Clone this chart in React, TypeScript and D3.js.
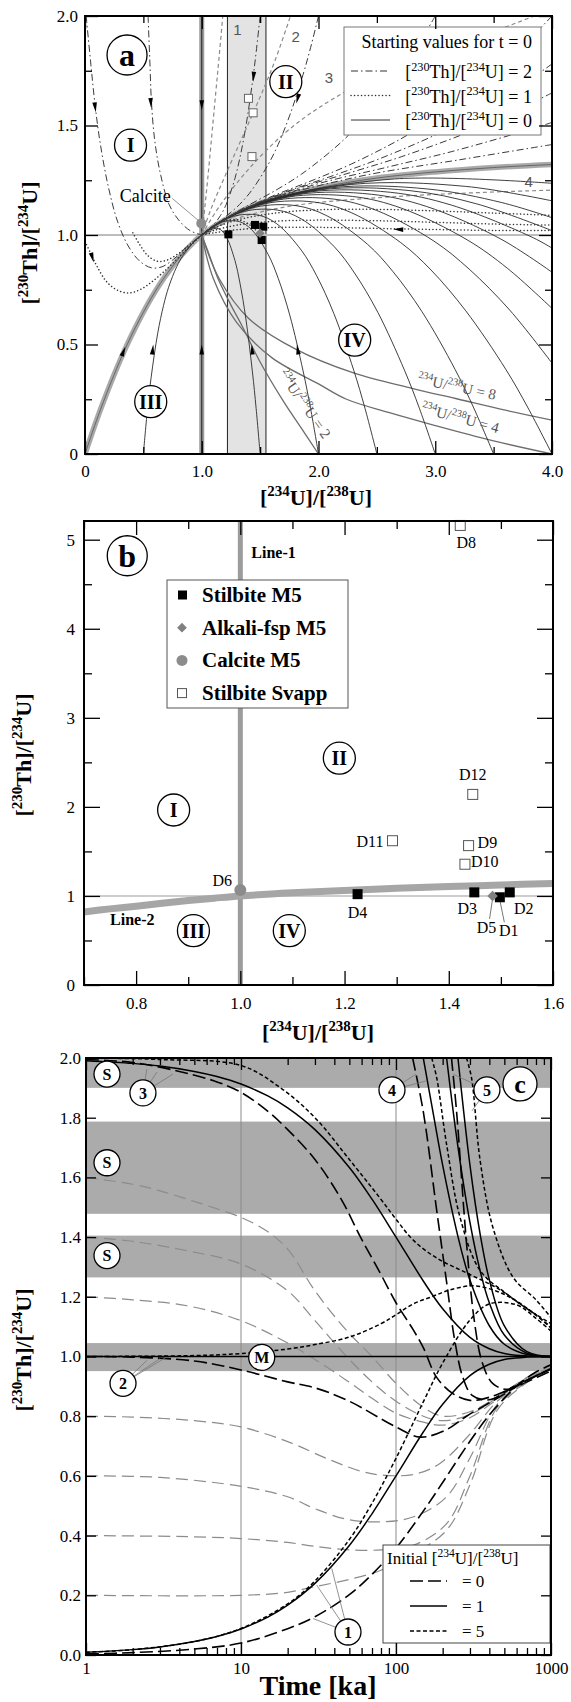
import React, { useEffect, useRef } from 'react';
import * as d3 from 'd3';

type P = [number, number];
const FONT = "'Liberation Serif', 'Times New Roman', serif";

// ---------------- panel a : [234U]/[238U] vs [230Th]/[234U] ----------------
const aBand: P = [1.22, 1.55];

const aThick: P[] = [[0, 0], [0.068, 0.107], [0.132, 0.202], [0.246, 0.358], [0.346, 0.482], [0.432, 0.578], [0.572, 0.716], [0.677, 0.804], [0.817, 0.902], [0.941, 0.972], [1, 1], [1.25, 1.085], [1.5, 1.145], [2, 1.215], [2.5, 1.26], [3, 1.288], [3.5, 1.308], [4, 1.322]];

// starting [230Th]/[234U] = 0 (solid)
const aSolid05: P[] = [[0.5, 0], [0.534, 0.198], [0.566, 0.348], [0.623, 0.552], [0.673, 0.679], [0.716, 0.761], [0.786, 0.856], [0.839, 0.906], [0.908, 0.954], [0.97, 0.987], [1, 1]];
const aSolid15: P[] = [[1.5, 0], [1.466, 0.207], [1.434, 0.375], [1.377, 0.621], [1.327, 0.781], [1.284, 0.884], [1.214, 0.988], [1.162, 1.024], [1.092, 1.031], [1.03, 1.013], [1, 1]];
const aSolid20: P[] = [[2, 0], [1.932, 0.208], [1.868, 0.379], [1.754, 0.634], [1.655, 0.802], [1.568, 0.912], [1.428, 1.024], [1.323, 1.061], [1.184, 1.061], [1.059, 1.025], [1, 1]];
const aSolid25: P[] = [[2.5, 0], [2.398, 0.209], [2.302, 0.382], [2.131, 0.642], [1.982, 0.816], [1.852, 0.931], [1.643, 1.051], [1.484, 1.091], [1.275, 1.086], [1.089, 1.036], [1, 1]];
const aSolid30: P[] = [[3, 0], [2.864, 0.209], [2.736, 0.383], [2.508, 0.647], [2.309, 0.826], [2.136, 0.946], [1.857, 1.072], [1.646, 1.114], [1.367, 1.108], [1.118, 1.047], [1, 1]];
const aSolid35: P[] = [[3.5, 0], [3.33, 0.21], [3.171, 0.385], [2.885, 0.651], [2.636, 0.834], [2.421, 0.957], [2.071, 1.088], [1.807, 1.134], [1.459, 1.127], [1.148, 1.057], [1, 1]];
const aSolid40: P[] = [[4, 0], [3.795, 0.21], [3.605, 0.386], [3.261, 0.654], [2.964, 0.84], [2.705, 0.965], [2.285, 1.101], [1.969, 1.15], [1.551, 1.144], [1.178, 1.067], [1, 1]];
const aSolid45: P[] = [[4, 0.415], [3.638, 0.657], [3.291, 0.844], [2.989, 0.972], [2.499, 1.112], [2.13, 1.164], [1.642, 1.159], [1.207, 1.076], [1, 1]];
const aSolid50: P[] = [[4, 0.665], [3.618, 0.848], [3.273, 0.978], [2.713, 1.122], [2.292, 1.176], [1.734, 1.173], [1.237, 1.085], [1, 1]];
const aSolid55: P[] = [[4, 0.83], [3.557, 0.983], [2.927, 1.13], [2.453, 1.186], [1.826, 1.185], [1.266, 1.093], [1, 1]];
const aSolid60: P[] = [[4, 0.94], [3.841, 0.987], [3.142, 1.136], [2.615, 1.195], [1.918, 1.196], [1.296, 1.101], [1, 1]];
const aSolid65: P[] = [[4, 1.02], [3.356, 1.142], [2.776, 1.203], [2.009, 1.206], [1.326, 1.109], [1, 1]];
const aSolid70: P[] = [[4, 1.079], [3.57, 1.148], [2.937, 1.21], [2.101, 1.215], [1.355, 1.116], [1, 1]];
const aSolid80: P[] = [[4, 1.156], [3.26, 1.222], [2.285, 1.231], [1.414, 1.13], [1, 1]];
const aSolid100: P[] = [[4, 1.236], [2.652, 1.256], [1.533, 1.154], [1.13, 1.051], [1, 1]];

// starting [230Th]/[234U] = 1 (dotted)
const aDot1: P[] = [[0, 0.97], [0.05, 0.915], [0.1, 0.86], [0.18, 0.79], [0.27, 0.75], [0.37, 0.735], [0.47, 0.75], [0.57, 0.785], [0.67, 0.83], [0.77, 0.88], [0.88, 0.94], [1, 1]];
const aDot2: P[] = [[0.41, 1.01], [0.47, 0.955], [0.54, 0.905], [0.62, 0.88], [0.7, 0.885], [0.8, 0.915], [0.9, 0.957], [1, 1]];
const aDot3: P[] = [[4, 1.02], [3.5, 1.021], [3, 1.025], [2.5, 1.03], [2, 1.035], [1.6, 1.034], [1.3, 1.024], [1.1, 1.01], [1, 1]];
const aDot4: P[] = [[4, 1.045], [3.5, 1.05], [3, 1.058], [2.5, 1.065], [2, 1.068], [1.6, 1.062], [1.3, 1.045], [1.1, 1.02], [1, 1]];
const aDot5: P[] = [[4, 1.09], [3.5, 1.1], [3, 1.11], [2.5, 1.117], [2, 1.115], [1.6, 1.098], [1.3, 1.068], [1.1, 1.03], [1, 1]];
const aDot6: P[] = [[1.5, 1.0], [1.434, 1.037], [1.377, 1.057], [1.327, 1.067], [1.284, 1.071], [1.214, 1.067], [1.162, 1.057], [1.092, 1.037], [1, 1]];

// starting [230Th]/[234U] = 2 (dash-dot)
const aDashDotI1: P[] = [[0.01, 2.0], [0.05, 1.78], [0.085, 1.6], [0.13, 1.42], [0.2, 1.22], [0.28, 1.06], [0.37, 0.95], [0.47, 0.88], [0.57, 0.85], [0.66, 0.855], [0.76, 0.89], [0.88, 0.95], [1, 1]];
const aDashDotI2: P[] = [[0.54, 2.0], [0.555, 1.8], [0.57, 1.6], [0.6, 1.42], [0.65, 1.27], [0.72, 1.14], [0.8, 1.07], [0.9, 1.02], [1, 1]];
const aDashDot15: P[] = [[1.5, 2], [1.466, 1.835], [1.434, 1.698], [1.377, 1.493], [1.327, 1.353], [1.284, 1.258], [1.214, 1.146], [1.162, 1.09], [1.092, 1.042], [1, 1]];
const aDashDot20: P[] = [[2, 2], [1.932, 1.855], [1.868, 1.733], [1.754, 1.547], [1.655, 1.414], [1.568, 1.321], [1.428, 1.204], [1.323, 1.139], [1.184, 1.075], [1, 1]];
const aDashDot30: P[] = [[3, 2], [2.864, 1.876], [2.736, 1.77], [2.508, 1.605], [2.309, 1.484], [2.136, 1.396], [1.857, 1.279], [1.646, 1.208], [1.367, 1.126], [1.118, 1.047], [1, 1]];
const aDashDot40: P[] = [[4, 2], [3.795, 1.887], [3.605, 1.79], [3.261, 1.636], [2.964, 1.524], [2.705, 1.439], [2.285, 1.325], [1.969, 1.254], [1.551, 1.165], [1.178, 1.067], [1, 1]];
const aDashDot45: P[] = [[4, 1.781], [3.638, 1.647], [3.291, 1.536], [2.989, 1.454], [2.499, 1.343], [2.13, 1.272], [1.642, 1.181], [1.207, 1.076], [1, 1]];
const aDashDot50: P[] = [[4, 1.649], [3.618, 1.548], [3.273, 1.467], [2.713, 1.358], [2.292, 1.288], [1.734, 1.197], [1.237, 1.085], [1, 1]];
const aDashDot60: P[] = [[4, 1.514], [3.841, 1.487], [3.142, 1.381], [2.615, 1.313], [1.918, 1.222], [1.296, 1.101], [1, 1]];
const aDashDot80: P[] = [[4, 1.413], [3.26, 1.348], [2.285, 1.26], [1.414, 1.13], [1, 1]];

// grey dashed curves 1-4
const aGrey1: P[] = [[1, 1], [1.025, 1.12], [1.05, 1.25], [1.08, 1.42], [1.12, 1.65], [1.15, 1.82], [1.18, 2.0]];
const aGrey2: P[] = [[1, 1], [1.08, 1.12], [1.2, 1.27], [1.35, 1.45], [1.5, 1.63], [1.63, 1.8], [1.76, 2.0]];
const aGrey3: P[] = [[1, 1], [1.15, 1.13], [1.4, 1.3], [1.7, 1.46], [2.0, 1.58], [2.5, 1.73], [3.0, 1.84], [3.5, 1.93], [3.85, 2.0]];
const aGrey4: P[] = [[1, 1], [1.3, 1.075], [1.8, 1.135], [2.5, 1.17], [3.2, 1.19], [4, 1.205]];
const aGreyLabels: [string, number, number][] = [['1', 1.306, 1.936], ['2', 1.805, 1.905], ['3', 2.09, 1.716], ['4', 3.8, 1.243]];

// grey 234U/238U curves
const aU2: P[] = [[1, 1], [1.05, 0.93], [1.14, 0.8], [1.25, 0.68], [1.35, 0.58], [1.5, 0.42], [1.7, 0.24], [1.85, 0.12], [2.0, 0]];
const aU4: P[] = [[1, 1], [1.1, 0.8], [1.3, 0.6], [1.6, 0.44], [2.0, 0.32], [2.24, 0.25], [2.6, 0.19], [3.0, 0.13], [3.5, 0.06], [4.0, 0.0]];
const aU8: P[] = [[1, 1], [1.15, 0.8], [1.4, 0.62], [1.8, 0.48], [2.3, 0.37], [2.8, 0.3], [3.2, 0.25], [3.6, 0.2], [4.0, 0.155]];
const aULabels: [string, number, number, number][] = [['2', 1.845, 0.215, 55], ['8', 3.175, 0.285, 12], ['4', 3.203, 0.142, 15]];

// arrows: from (x1,y1) to tip (x2,y2)
const aArrows: [number, number, number, number][] = [
  [0.567, 0.42, 0.585, 0.5], [0.31, 0.44, 0.345, 0.49], [1, 0.42, 1, 0.5], [1.44, 0.42, 1.428, 0.5], [1.84, 0.42, 1.815, 0.5],
  [1, 1.66, 1, 1.57], [0.555, 1.68, 0.567, 1.58], [0.07, 1.66, 0.092, 1.56], [0.04, 0.94, 0.075, 0.875],
  [1.452, 1.78, 1.44, 1.7], [1.84, 1.66, 1.81, 1.6], [2.85, 1.022, 2.64, 1.026],
];

const aStilbiteM5: P[] = [[1.228, 1.003], [1.456, 1.046], [1.527, 1.038], [1.513, 0.977]];
const aAlkali: P[] = [[1.499, 1.008]];
const aCalcite: P[] = [[0.996, 1.053]];
const aSvapp: P[] = [[1.4, 1.624], [1.44, 1.558], [1.43, 1.358]];
const aRegions: [string, number, number][] = [['I', 0.39, 1.41], ['II', 1.72, 1.7], ['III', 0.563, 0.239], ['IV', 2.31, 0.52]];
const aLegendRows = ['2', '1', '0'];

// ---------------- panel b ----------------
const bLine2: P[] = [[0.7, 0.82], [0.75, 0.855], [0.8, 0.885], [0.85, 0.918], [0.9, 0.948], [0.95, 0.975], [1.0, 1.0], [1.1, 1.035], [1.2, 1.062], [1.3, 1.085], [1.4, 1.105], [1.5, 1.123], [1.6, 1.14]];
// [name, x, y, label dx, label dy, anchor]
const bStilbiteM5: [string, number, number, number, number, string][] = [['D4', 1.225, 1.02, 0, 24, 'middle'], ['D3', 1.449, 1.04, -7, 22, 'middle'], ['D2', 1.517, 1.04, 14, 22, 'middle'], ['D1', 1.498, 0.985, 9, 39, 'middle']];
const bAlkali: [string, number, number, number, number, string][] = [['D5', 1.484, 1.0, -6, 37, 'middle']];
const bCalcite: [string, number, number, number, number, string][] = [['D6', 1.0, 1.067, -18, -4, 'middle']];
const bSvapp: [string, number, number, number, number, string][] = [['D8', 1.422, 5.16, 6, 23, 'middle'], ['D12', 1.446, 2.14, 0, -14, 'middle'], ['D11', 1.292, 1.62, -9, 6, 'end'], ['D9', 1.438, 1.565, 9, 2, 'start'], ['D10', 1.431, 1.356, 6, 3, 'start']];
const bRegions: [string, number, number][] = [['I', 0.872, 1.965], ['II', 1.19, 2.547], ['III', 0.91, 0.61], ['IV', 1.094, 0.61]];
const bLegend = ['Stilbite M5', 'Alkali-fsp M5', 'Calcite M5', 'Stilbite Svapp'];

// ---------------- panel c : time series ----------------
const cBands: P[] = [[1.9, 2.0], [1.478, 1.787], [1.265, 1.405], [0.951, 1.045]];
// initial 234U/238U = 1 (solid)
const cSolid0: P[] = [[1, 0.009], [2, 0.018], [3, 0.027], [5, 0.045], [7, 0.062], [10, 0.087], [15, 0.128], [20, 0.167], [30, 0.24], [50, 0.367], [70, 0.473], [100, 0.6], [150, 0.747], [200, 0.84], [300, 0.936], [400, 0.974], [500, 0.99], [700, 0.998], [1000, 1.0]];
const cSolid1: P[] = [[1, 1], [1000, 1]];
const cSolid2: P[] = [[1, 1.991], [2, 1.982], [3, 1.973], [5, 1.955], [7, 1.938], [10, 1.913], [15, 1.872], [20, 1.833], [30, 1.76], [50, 1.633], [70, 1.527], [100, 1.4], [150, 1.253], [200, 1.16], [300, 1.064], [400, 1.026], [500, 1.01], [700, 1.002], [1000, 1.0]];
const cSolid5: P[] = [[150, 2.0], [175, 1.806], [200, 1.641], [250, 1.406], [300, 1.256], [400, 1.103], [500, 1.041], [700, 1.007], [1000, 1.0]];
const cSolid8: P[] = [[212, 2.0], [250, 1.709], [300, 1.449], [350, 1.284], [400, 1.18], [500, 1.072], [700, 1.011], [1000, 1.0]];
const cSolid11: P[] = [[251, 2.0], [300, 1.641], [350, 1.406], [400, 1.257], [500, 1.103], [700, 1.016], [1000, 1.0]];
// initial 234U/238U = 0 (long dash)
const cLong0: P[] = [[1, 0.004], [2, 0.008], [5, 0.02], [10, 0.04], [20, 0.088], [30, 0.128], [50, 0.202], [70, 0.27], [100, 0.358], [150, 0.482], [200, 0.578], [300, 0.716], [400, 0.804], [500, 0.86], [600, 0.902], [800, 0.948], [1000, 0.972]];
const cLong1: P[] = [[1, 1.0], [2, 0.998], [5, 0.985], [10, 0.955], [20, 0.915], [30, 0.895], [50, 0.85], [100, 0.764], [143, 0.73], [212, 0.755], [285, 0.8], [450, 0.86], [700, 0.92], [1000, 0.958]];
const cLong2: P[] = [[1, 1.995], [2, 1.985], [4, 1.955], [7, 1.92], [10, 1.885], [15, 1.82], [20, 1.76], [30, 1.66], [44, 1.53], [59, 1.4], [79, 1.28], [100, 1.18], [129, 1.09], [150, 1.03], [183, 0.93], [234, 0.875], [300, 0.853], [404, 0.864], [570, 0.897], [800, 0.935], [1000, 0.96]];
const cLongS1: P[] = [[128, 2.0], [150, 1.82], [183, 1.49], [212, 1.25], [240, 1.05], [270, 0.93], [310, 0.87], [400, 0.855], [600, 0.905], [1000, 0.958]];
const cLongS2: P[] = [[228, 2.0], [246, 1.82], [285, 1.38], [320, 1.12], [360, 0.98], [420, 0.91], [520, 0.89], [700, 0.915], [1000, 0.952]];
const cGrey02: P[] = [[1, 0.2], [10, 0.2], [20, 0.21], [30, 0.229], [48, 0.251], [80, 0.284], [130, 0.34], [212, 0.418], [300, 0.57], [450, 0.82], [700, 0.913], [1000, 0.96]];
const cGrey04: P[] = [[1, 0.4], [5, 0.396], [10, 0.39], [20, 0.377], [30, 0.364], [48, 0.353], [80, 0.352], [130, 0.368], [212, 0.44], [300, 0.6], [450, 0.83], [700, 0.915], [1000, 0.96]];
const cGrey06: P[] = [[1, 0.6], [3, 0.595], [10, 0.565], [20, 0.53], [30, 0.49], [48, 0.455], [80, 0.446], [130, 0.463], [212, 0.53], [300, 0.66], [450, 0.84], [700, 0.917], [1000, 0.96]];
const cGrey08: P[] = [[1, 0.8], [2, 0.797], [5, 0.785], [10, 0.764], [20, 0.715], [37, 0.655], [60, 0.615], [80, 0.603], [130, 0.605], [190, 0.64], [300, 0.74], [450, 0.85], [700, 0.92], [1000, 0.96]];
const cGrey12: P[] = [[1, 1.2], [2, 1.19], [4.5, 1.17], [10, 1.12], [20, 1.045], [30, 0.99], [48, 0.92], [70, 0.86], [100, 0.81], [150, 0.78], [200, 0.77], [300, 0.795], [450, 0.857], [700, 0.925], [1000, 0.96]];
const cGrey14: P[] = [[1, 1.4], [2, 1.386], [4.5, 1.354], [10, 1.31], [20, 1.22], [30, 1.12], [48, 1.0], [70, 0.915], [100, 0.85], [150, 0.8], [200, 0.785], [300, 0.805], [450, 0.862], [700, 0.928], [1000, 0.962]];
const cGrey16: P[] = [[1, 1.6], [2, 1.577], [3, 1.555], [4.5, 1.527], [6.6, 1.499], [10, 1.466], [14.6, 1.421], [20, 1.36], [30, 1.22], [48, 1.087], [70, 1.0], [100, 0.91], [150, 0.83], [200, 0.8], [300, 0.815], [450, 0.865], [700, 0.93], [1000, 0.963]];
// initial 234U/238U = 5 (short dash)
const cShort0: P[] = [[1, 0.009], [2, 0.018], [5, 0.045], [10, 0.089], [20, 0.171], [30, 0.248], [50, 0.387], [70, 0.508], [100, 0.659], [150, 0.848], [200, 0.978], [300, 1.122], [400, 1.176], [600, 1.173], [800, 1.128], [1000, 1.085]];
const cShortM: P[] = [[1, 1.0], [5, 1.003], [10, 1.01], [20, 1.025], [30, 1.04], [50, 1.065], [80, 1.11], [100, 1.14], [130, 1.177], [170, 1.2], [220, 1.222], [316, 1.237], [450, 1.218], [600, 1.185], [800, 1.14], [1000, 1.095]];
const cShort2: P[] = [[1, 2.0], [3, 1.995], [10, 1.975], [18, 1.9], [30, 1.8], [50, 1.66], [79, 1.53], [100, 1.46], [129, 1.39], [183, 1.33], [285, 1.28], [447, 1.23], [700, 1.16], [1000, 1.1]];
const cShortS1: P[] = [[170, 2.0], [183, 1.934], [212, 1.711], [259, 1.466], [349, 1.288], [517, 1.21], [700, 1.16], [1000, 1.11]];
const cShortS2: P[] = [[285, 2.0], [307, 1.934], [349, 1.656], [422, 1.432], [570, 1.265], [800, 1.19], [1000, 1.13]];

// circled labels [text, t, value] and leader targets
const cCircles: [string, number, number][] = [['S', 1.366, 1.946], ['S', 1.366, 1.649], ['S', 1.366, 1.338], ['3', 2.33, 1.883], ['M', 13.6, 0.997], ['2', 1.733, 0.91], ['4', 94.2, 1.893], ['5', 386, 1.893], ['1', 49, 0.077]];
const cLeaders: [number, number, number, number][] = [
  [2.33, 1.883, 2.47, 1.963], [2.33, 1.883, 2.87, 1.953], [2.33, 1.883, 3.64, 1.946],
  [1.733, 0.91, 2.47, 0.987], [1.733, 0.91, 3.0, 0.993], [1.733, 0.91, 3.28, 0.997],
  [94.2, 1.893, 134.6, 1.946], [94.2, 1.893, 156, 1.923],
  [386, 1.893, 233, 1.946], [386, 1.893, 309, 1.823],
  [49, 0.077, 30.8, 0.234], [49, 0.077, 38.5, 0.29], [49, 0.077, 29.2, 0.122],
];
const cLegendRows = ['0', '1', '5'];

// ---------------- helpers ----------------
function rich(t: any, parts: string[], fs: number) {
  const sup = fs * 0.68, shift = fs * 0.4;
  let up = false;
  parts.forEach((p) => {
    const isSup = p.startsWith('^');
    const s = t.append('tspan').text(isSup ? p.slice(1) : p);
    if (isSup) {
      s.attr('font-size', sup);
      if (!up) { s.attr('dy', -shift); up = true; }
    } else if (up) {
      s.attr('dy', shift); up = false;
    }
  });
}

function axes(g: any, x: any, y: any, o: any) {
  const [xl, xr] = x.range();
  const [yb, yt] = y.range();
  const style = (s: any) => {
    s.select('.domain').remove();
    s.selectAll('line').attr('stroke', '#000').attr('stroke-width', 1.3);
    s.attr('font-family', FONT).attr('font-size', 17);
    s.selectAll('text').attr('fill', '#000');
  };
  const none = () => '';
  g.append('g').attr('transform', `translate(0,${yb})`).call(d3.axisBottom(x).tickValues(o.xMajor).tickSize(-o.xLen).tickPadding(o.xPad).tickFormat(o.xFmt)).call(style);
  g.append('g').attr('transform', `translate(0,${yb})`).call(d3.axisBottom(x).tickValues(o.xMinor).tickSize(-o.xMin).tickFormat(none)).call(style);
  g.append('g').attr('transform', `translate(0,${yt})`).call(d3.axisTop(x).tickValues(o.xMajor).tickSize(-o.xLen).tickFormat(none)).call(style);
  g.append('g').attr('transform', `translate(0,${yt})`).call(d3.axisTop(x).tickValues(o.xMinor).tickSize(-o.xMin).tickFormat(none)).call(style);
  g.append('g').attr('transform', `translate(${xl},0)`).call(d3.axisLeft(y).tickValues(o.yMajor).tickSize(-o.yLen).tickPadding(o.yPad).tickFormat(o.yFmt)).call(style);
  g.append('g').attr('transform', `translate(${xl},0)`).call(d3.axisLeft(y).tickValues(o.yMinor).tickSize(-o.yMin).tickFormat(none)).call(style);
  g.append('g').attr('transform', `translate(${xr},0)`).call(d3.axisRight(y).tickValues(o.yMajor).tickSize(-o.yLen).tickFormat(none)).call(style);
  g.append('g').attr('transform', `translate(${xr},0)`).call(d3.axisRight(y).tickValues(o.yMinor).tickSize(-o.yMin).tickFormat(none)).call(style);
  g.append('rect').attr('x', xl).attr('y', yt).attr('width', xr - xl).attr('height', yb - yt)
    .attr('fill', 'none').attr('stroke', '#000').attr('stroke-width', 2);
}

function circled(g: any, cx: number, cy: number, r: number, label: string, fs: number) {
  g.append('circle').attr('cx', cx).attr('cy', cy).attr('r', r).attr('fill', '#fff').attr('stroke', '#000').attr('stroke-width', 1.3);
  g.append('text').attr('x', cx).attr('y', cy).attr('dy', '0.35em').attr('text-anchor', 'middle')
    .attr('font-weight', 'bold').attr('font-size', fs).text(label);
}

function arrowHeads(g: any, x: any, y: any, list: [number, number, number, number][]) {
  list.forEach(([x1, y1, x2, y2]) => {
    const ax = x(x1), ay = y(y1), bx = x(x2), by = y(y2);
    const L = Math.hypot(bx - ax, by - ay);
    const ux = (bx - ax) / L, uy = (by - ay) / L;
    const len = 10, w = 2.3;
    const px = bx - ux * len, py = by - uy * len;
    g.append('path').attr('d', `M${bx},${by}L${px - uy * w},${py + ux * w}L${px + uy * w},${py - ux * w}Z`).attr('fill', '#000');
  });
}

function yLabel(g: any, x: number, y: number) {
  const t = g.append('text').attr('transform', `translate(${x},${y}) rotate(-90)`).attr('text-anchor', 'middle')
    .attr('font-weight', 'bold').attr('font-size', 22);
  rich(t, ['[', '^230', 'Th]/[', '^234', 'U]'], 22);
}

function xLabel(g: any, x: number, y: number) {
  const t = g.append('text').attr('x', x).attr('y', y).attr('text-anchor', 'middle').attr('font-weight', 'bold').attr('font-size', 22);
  rich(t, ['[', '^234', 'U]/[', '^238', 'U]'], 22);
}

// ---------------- panel a ----------------
function drawA(svg: any) {
  const x = d3.scaleLinear().domain([0, 4]).range([85, 552]);
  const y = d3.scaleLinear().domain([0, 2]).range([454, 16]);
  const g = svg.append('g');
  svg.append('defs').append('clipPath').attr('id', 'clipA').append('rect').attr('x', 85).attr('y', 16).attr('width', 467).attr('height', 438);
  const plot = g.append('g').attr('clip-path', 'url(#clipA)');
  const line = d3.line<P>().x((d) => x(d[0])).y((d) => y(d[1])).curve(d3.curveCatmullRom.alpha(0.5));
  const draw = (data: P[], stroke: string, w: number, dash: string | null) => {
    const p = plot.append('path').attr('d', line(data)).attr('fill', 'none').attr('stroke', stroke).attr('stroke-width', w);
    if (dash) p.attr('stroke-dasharray', dash);
    return p;
  };

  plot.append('rect').attr('x', x(aBand[0])).attr('width', x(aBand[1]) - x(aBand[0])).attr('y', y(2)).attr('height', y(0) - y(2))
    .attr('fill', '#e3e3e3').attr('stroke', '#222').attr('stroke-width', 1);
  plot.append('line').attr('x1', x(0)).attr('x2', x(4)).attr('y1', y(1)).attr('y2', y(1)).attr('stroke', '#bdbdbd').attr('stroke-width', 1.8);

  draw(aThick, '#a9a9a9', 5.5, null);
  plot.append('line').attr('x1', x(1)).attr('x2', x(1)).attr('y1', y(0)).attr('y2', y(2)).attr('stroke', '#9a9a9a').attr('stroke-width', 5);
  plot.append('line').attr('x1', x(1)).attr('x2', x(1)).attr('y1', y(0)).attr('y2', y(2)).attr('stroke', '#222').attr('stroke-width', 1);
  draw(aThick, '#555', 0.8, null);

  [aU2, aU4, aU8].forEach((d) => draw(d, '#6d6d6d', 1.3, null));
  [aGrey1, aGrey2, aGrey3, aGrey4].forEach((d) => draw(d, '#8a8a8a', 1.2, '4,3'));
  [aSolid05, aSolid15, aSolid20, aSolid25, aSolid30, aSolid35, aSolid40, aSolid45, aSolid50, aSolid55, aSolid60, aSolid65, aSolid70, aSolid80, aSolid100]
    .forEach((d) => draw(d, '#2a2a2a', 0.9, null));
  [aDot1, aDot2, aDot3, aDot4, aDot5, aDot6].forEach((d) => draw(d, '#333', 1.5, '0.1,3.4').attr('stroke-linecap', 'round'));
  [aDashDotI1, aDashDotI2, aDashDot15, aDashDot20, aDashDot30, aDashDot40, aDashDot45, aDashDot50, aDashDot60, aDashDot80]
    .forEach((d) => draw(d, '#3a3a3a', 1, '7,3,1.5,3'));
  arrowHeads(plot, x, y, aArrows);

  // grey labels
  aGreyLabels.forEach(([s, vx, vy]) => {
    g.append('text').attr('x', x(vx)).attr('y', y(vy)).attr('dy', '0.35em').attr('text-anchor', 'middle')
      .attr('font-family', "'Liberation Sans', Arial, sans-serif").attr('font-size', 15).attr('fill', '#555').text(s);
  });
  aULabels.forEach(([s, vx, vy, ang]) => {
    const t = g.append('text').attr('transform', `translate(${x(vx)},${y(vy)}) rotate(${ang})`).attr('text-anchor', 'middle')
      .attr('dy', '0.35em').attr('font-size', 15).attr('fill', '#555');
    rich(t, ['^234', 'U/', '^238', `U = ${s}`], 15);
  });

  // markers
  aSvapp.forEach(([vx, vy]) => g.append('rect').attr('x', x(vx) - 4).attr('y', y(vy) - 4).attr('width', 8).attr('height', 8).attr('fill', '#fff').attr('stroke', '#666').attr('stroke-width', 1));
  aCalcite.forEach(([vx, vy]) => g.append('circle').attr('cx', x(vx)).attr('cy', y(vy)).attr('r', 5).attr('fill', '#8c8c8c'));
  aStilbiteM5.forEach(([vx, vy]) => g.append('rect').attr('x', x(vx) - 4).attr('y', y(vy) - 4).attr('width', 8).attr('height', 8).attr('fill', '#000'));
  aAlkali.forEach(([vx, vy]) => g.append('path').attr('d', d3.symbol(d3.symbolDiamond2, 55)()).attr('transform', `translate(${x(vx)},${y(vy)})`).attr('fill', '#808080'));

  // calcite label
  const [cxv, cyv] = aCalcite[0];
  g.append('line').attr('x1', x(cxv) - 29).attr('y1', y(cyv) - 25).attr('x2', x(cxv) - 3).attr('y2', y(cyv) - 3).attr('stroke', '#777').attr('stroke-width', 0.8);
  g.append('text').attr('x', x(cxv) - 56).attr('y', y(cyv) - 21).attr('text-anchor', 'middle').attr('font-size', 18).text('Calcite');

  // legend
  const lg = g.append('g');
  lg.append('rect').attr('x', 344).attr('y', 27).attr('width', 197).attr('height', 108).attr('fill', '#fff').attr('stroke', '#777').attr('stroke-width', 1);
  lg.append('text').attr('x', 532).attr('y', 48).attr('text-anchor', 'end').attr('font-size', 18).text('Starting values for t = 0');
  const dashes = ['7,3,1.5,3', '0.1,3.4', null];
  aLegendRows.forEach((v, i) => {
    const yy = 71 + i * 24.5;
    const l = lg.append('line').attr('x1', 351).attr('x2', 390).attr('y1', yy).attr('y2', yy).attr('stroke', '#333').attr('stroke-width', i === 1 ? 1.5 : 1);
    if (dashes[i]) l.attr('stroke-dasharray', dashes[i]);
    if (i === 1) l.attr('stroke-linecap', 'round');
    const t = lg.append('text').attr('x', 532).attr('y', yy + 7).attr('text-anchor', 'end').attr('font-size', 18);
    rich(t, ['[', '^230', 'Th]/[', '^234', `U] = ${v}`], 18);
  });

  circled(g, x(0.36), y(1.822), 20, 'a', 32);
  aRegions.forEach(([s, vx, vy]) => circled(g, x(vx), y(vy), 16, s, 20));

  axes(g, x, y, {
    xMajor: [0, 1, 2, 3, 4], xMinor: [0.5, 1.5, 2.5, 3.5], xLen: 13, xMin: 7, xPad: 11,
    xFmt: (d: number) => (d === 0 ? '0' : d.toFixed(1)),
    yMajor: [0, 0.5, 1, 1.5, 2], yMinor: [0.25, 0.75, 1.25, 1.75], yLen: 13, yMin: 7, yPad: 7,
    yFmt: (d: number) => (d === 0 ? '0' : d.toFixed(1)),
  });
  xLabel(g, 316, 505);
  yLabel(g, 37, 243);
}

// ---------------- panel b ----------------
function drawB(svg: any) {
  const x = d3.scaleLinear().domain([0.7, 1.6]).range([84, 553]);
  const y = d3.scaleLinear().domain([0, 5.21]).range([985, 521]);
  const g = svg.append('g');
  svg.append('defs').append('clipPath').attr('id', 'clipB').append('rect').attr('x', 84).attr('y', 521).attr('width', 469).attr('height', 464);
  const plot = g.append('g').attr('clip-path', 'url(#clipB)');
  const line = d3.line<P>().x((d) => x(d[0])).y((d) => y(d[1])).curve(d3.curveCatmullRom.alpha(0.5));

  plot.append('line').attr('x1', x(0.7)).attr('x2', x(1.6)).attr('y1', y(1)).attr('y2', y(1)).attr('stroke', '#bdbdbd').attr('stroke-width', 1.5);
  plot.append('line').attr('x1', x(1)).attr('x2', x(1)).attr('y1', y(0)).attr('y2', y(5.21)).attr('stroke', '#9c9c9c').attr('stroke-width', 5);
  plot.append('path').attr('d', line(bLine2)).attr('fill', 'none').attr('stroke', '#a6a6a6').attr('stroke-width', 7);

  g.append('text').attr('x', x(1) + 11).attr('y', y(4.795)).attr('font-weight', 'bold').attr('font-size', 16).text('Line-1');
  g.append('text').attr('x', x(0.75)).attr('y', y(0.674)).attr('font-weight', 'bold').attr('font-size', 16).text('Line-2');

  const lab = (d: [string, number, number, number, number, string]) =>
    g.append('text').attr('x', x(d[1]) + d[3]).attr('y', y(d[2]) + d[4]).attr('text-anchor', d[5]).attr('font-size', 16).text(d[0]);

  // leader lines for D5 and D1
  [bAlkali[0], bStilbiteM5[3]].forEach((d) => {
    g.append('line').attr('x1', x(d[1]) + d[3] * 0.5).attr('y1', y(d[2]) + d[4] - 14).attr('x2', x(d[1])).attr('y2', y(d[2]) + 3)
      .attr('stroke', '#555').attr('stroke-width', 0.8);
  });

  bSvapp.forEach((d) => {
    g.append('rect').attr('x', x(d[1]) - 5).attr('y', y(d[2]) - 5).attr('width', 10).attr('height', 10).attr('fill', '#fff').attr('stroke', '#555').attr('stroke-width', 1);
    lab(d);
  });
  bCalcite.forEach((d) => { g.append('circle').attr('cx', x(d[1])).attr('cy', y(d[2])).attr('r', 6).attr('fill', '#8c8c8c'); lab(d); });
  bStilbiteM5.forEach((d) => { g.append('rect').attr('x', x(d[1]) - 5).attr('y', y(d[2]) - 5).attr('width', 10).attr('height', 10).attr('fill', '#000'); lab(d); });
  bAlkali.forEach((d) => { g.append('path').attr('d', d3.symbol(d3.symbolDiamond2, 70)()).attr('transform', `translate(${x(d[1])},${y(d[2])})`).attr('fill', '#808080'); lab(d); });

  // legend
  const lg = g.append('g');
  lg.append('rect').attr('x', 167).attr('y', 580).attr('width', 181).attr('height', 128).attr('fill', '#fff').attr('stroke', '#555').attr('stroke-width', 1);
  bLegend.forEach((s, i) => {
    const cy = 595 + i * 32.7;
    if (i === 0) lg.append('rect').attr('x', 178).attr('y', cy - 4.5).attr('width', 9).attr('height', 9).attr('fill', '#000');
    if (i === 1) lg.append('path').attr('d', d3.symbol(d3.symbolDiamond2, 60)()).attr('transform', `translate(182,${cy})`).attr('fill', '#808080');
    if (i === 2) lg.append('circle').attr('cx', 182).attr('cy', cy).attr('r', 5.5).attr('fill', '#8c8c8c');
    if (i === 3) lg.append('rect').attr('x', 177.5).attr('y', cy - 4.5).attr('width', 9).attr('height', 9).attr('fill', '#fff').attr('stroke', '#555');
    lg.append('text').attr('x', 202).attr('y', cy + 7).attr('font-weight', 'bold').attr('font-size', 21).text(s);
  });

  circled(g, x(0.783), y(4.82), 20, 'b', 32);
  bRegions.forEach(([s, vx, vy]) => circled(g, x(vx), y(vy), 16, s, 20));

  axes(g, x, y, {
    xMajor: [0.8, 1.0, 1.2, 1.4, 1.6], xMinor: [0.7, 0.9, 1.1, 1.3, 1.5], xLen: 14, xMin: 8, xPad: 12,
    xFmt: (d: number) => d.toFixed(1),
    yMajor: [0, 1, 2, 3, 4, 5], yMinor: [0.5, 1.5, 2.5, 3.5, 4.5], yLen: 16, yMin: 8, yPad: 9,
    yFmt: (d: number) => String(d),
  });
  xLabel(g, 318, 1040);
  yLabel(g, 31, 755);
}

// ---------------- panel c ----------------
function drawC(svg: any) {
  const x = d3.scaleLog().domain([1, 1000]).range([86, 551]);
  const y = d3.scaleLinear().domain([0, 2]).range([1655, 1058]);
  const g = svg.append('g');
  svg.append('defs').append('clipPath').attr('id', 'clipC').append('rect').attr('x', 86).attr('y', 1058).attr('width', 465).attr('height', 597);
  const plot = g.append('g').attr('clip-path', 'url(#clipC)');
  const line = d3.line<P>().x((d) => x(d[0])).y((d) => y(d[1])).curve(d3.curveCatmullRom.alpha(0.5));
  const draw = (data: P[], stroke: string, w: number, dash: string | null) => {
    const p = plot.append('path').attr('d', line(data)).attr('fill', 'none').attr('stroke', stroke).attr('stroke-width', w);
    if (dash) p.attr('stroke-dasharray', dash);
    return p;
  };

  cBands.forEach(([lo, hi]) => plot.append('rect').attr('x', 86).attr('width', 465).attr('y', y(hi)).attr('height', y(lo) - y(hi)).attr('fill', '#ababab'));
  [10, 100].forEach((t) => plot.append('line').attr('x1', x(t)).attr('x2', x(t)).attr('y1', y(0)).attr('y2', y(2)).attr('stroke', '#8a8a8a').attr('stroke-width', 1));

  [cGrey02, cGrey04, cGrey06, cGrey08, cGrey12, cGrey14, cGrey16].forEach((d) => draw(d, '#8c8c8c', 1.2, '12,6'));
  [cLong0, cLong1, cLong2, cLongS1, cLongS2].forEach((d) => draw(d, '#000', 1.6, '13,5'));
  [cSolid0, cSolid1, cSolid2, cSolid5, cSolid8, cSolid11].forEach((d) => draw(d, '#000', 1.5, null));
  [cShort0, cShortM, cShort2, cShortS1, cShortS2].forEach((d) => draw(d, '#000', 1.5, '4,2.5'));

  cLeaders.forEach(([t1, v1, t2, v2]) => g.append('line').attr('x1', x(t1)).attr('y1', y(v1)).attr('x2', x(t2)).attr('y2', y(v2)).attr('stroke', '#777').attr('stroke-width', 0.8));
  cCircles.forEach(([s, t, v]) => circled(g, x(t), y(v), 13, s, 16));
  circled(g, x(631), y(1.913), 17, 'c', 26);

  // legend
  const lg = g.append('g');
  lg.append('rect').attr('x', 383).attr('y', 1545).attr('width', 167).attr('height', 98).attr('fill', '#fff').attr('stroke', '#444').attr('stroke-width', 1);
  const tt = lg.append('text').attr('x', 387).attr('y', 1564).attr('font-size', 17);
  rich(tt, ['Initial [', '^234', 'U]/[', '^238', 'U]'], 17);
  const dashes = ['13,5', null, '4,2.5'];
  cLegendRows.forEach((v, i) => {
    const yy = 1581 + i * 25;
    const l = lg.append('line').attr('x1', 410).attr('x2', 447).attr('y1', yy).attr('y2', yy).attr('stroke', '#000').attr('stroke-width', 1.5);
    if (dashes[i]) l.attr('stroke-dasharray', dashes[i]);
    lg.append('text').attr('x', 462).attr('y', yy + 6).attr('font-size', 17).text(`= ${v}`);
  });

  const minors: number[] = [];
  [1, 10, 100].forEach((dec) => { for (let k = 2; k <= 9; k++) minors.push(dec * k); });
  axes(g, x, y, {
    xMajor: [1, 10, 100, 1000], xMinor: minors, xLen: 12, xMin: 7, xPad: 7,
    xFmt: (d: number) => String(d),
    yMajor: d3.range(0, 2.01, 0.2), yMinor: [], yLen: 10, yMin: 0, yPad: 5,
    yFmt: (d: number) => d.toFixed(1),
  });
  g.append('text').attr('x', 318).attr('y', 1695).attr('text-anchor', 'middle').attr('font-weight', 'bold').attr('font-size', 28).text('Time [ka]');
  yLabel(g, 31, 1350);
}

export default function App() {
  const ref = useRef<SVGSVGElement>(null);
  useEffect(() => {
    const svg = d3.select(ref.current);
    svg.selectAll('*').remove();
    drawA(svg);
    drawB(svg);
    drawC(svg);
  }, []);
  return (
    <svg ref={ref} width={571} height={1702} fontFamily={FONT}
      style={{ position: 'absolute', left: 0, top: 0, background: '#fff' }} />
  );
}
